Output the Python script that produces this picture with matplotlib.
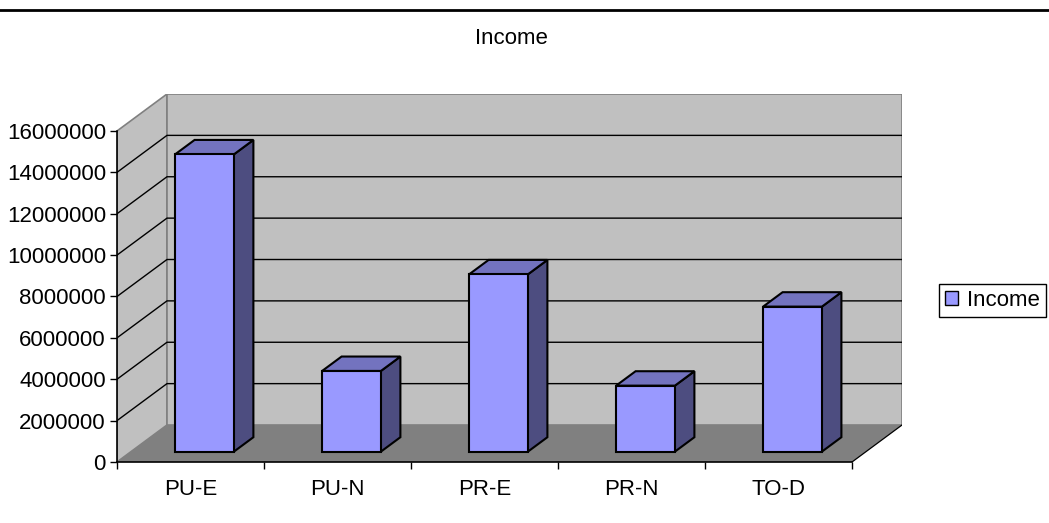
import matplotlib.pyplot as plt
from matplotlib.patches import Polygon, Patch
from matplotlib.lines import Line2D
import numpy as np

plt.rcParams['font.family'] = ['Liberation Sans', 'DejaVu Sans']

categories = ['PU-E', 'PU-N', 'PR-E', 'PR-N', 'TO-D']
income = [14370000, 3900000, 8570000, 3190000, 7010000]
y_ticks = [0, 2000000, 4000000, 6000000, 8000000, 10000000, 12000000, 14000000, 16000000]

ymax = 16000000
# oblique depth vector for the whole floor, in data units
DX = 0.34
DY = 1788000
# bar placement: width in category units, front/back depth fraction
bw = 0.4
d0, d1 = 0.28, 0.67

front_col = '#9999ff'
top_col = '#7373bf'
side_col = '#4d4d80'

W, H = 1049, 523
fig = plt.figure(figsize=(W / 100, H / 100), dpi=100)
ax = fig.add_axes([117 / W, (H - 462) / H, 785 / W, 368 / H])
n = len(categories)
ax.set_xlim(0, n + DX)
ax.set_ylim(0, ymax + DY)
ax.patch.set_visible(False)

def poly(pts, fc, ec='none', lw=0, z=1):
    ax.add_patch(Polygon(pts, closed=True, facecolor=fc, edgecolor=ec,
                         linewidth=lw, zorder=z, joinstyle='miter'))

# walls and floor
poly([(0, 0), (DX, DY), (DX, ymax + DY), (0, ymax)], '#c0c0c0', '#808080', 1.2)
poly([(DX, DY), (n + DX, DY), (n + DX, ymax + DY), (DX, ymax + DY)], '#c0c0c0', '#808080', 1.2)
poly([(0, 0), (n, 0), (n + DX, DY), (DX, DY)], '#808080')
ax.plot([n, n + DX], [0, DY], color='black', lw=0.9, zorder=2)

# gridlines on back and side walls
for v in y_ticks[1:-1]:
    ax.plot([0, DX, n + DX], [v, v + DY, v + DY], color='black', lw=1.0, zorder=2)

# bars
for i, v in enumerate(income):
    x0 = i + 0.5 - bw / 2 + d0 * DX
    x1 = x0 + bw
    yb = d0 * DY
    ox = (d1 - d0) * DX
    oy = (d1 - d0) * DY
    poly([(x1, yb), (x1 + ox, yb + oy), (x1 + ox, yb + oy + v), (x1, yb + v)],
         side_col, 'black', 1.5, 3)
    poly([(x0, yb + v), (x1, yb + v), (x1 + ox, yb + oy + v), (x0 + ox, yb + oy + v)],
         top_col, 'black', 1.5, 3)
    poly([(x0, yb), (x1, yb), (x1, yb + v), (x0, yb + v)],
         front_col, 'black', 1.5, 4)

# axes
for s in ['top', 'right']:
    ax.spines[s].set_visible(False)
ax.spines['left'].set_bounds(0, ymax)
ax.spines['bottom'].set_bounds(0, n)
for s in ['left', 'bottom']:
    ax.spines[s].set_linewidth(1.2)
    ax.spines[s].set_zorder(5)
ax.set_yticks(y_ticks)
ax.set_yticklabels([str(t) for t in y_ticks], fontsize=16)
ax.set_xticks(np.arange(n + 1))
ax.set_xticklabels([])
ax.set_xticks(np.arange(n) + 0.5, minor=True)
ax.set_xticklabels(categories, minor=True, fontsize=16)
ax.tick_params(axis='y', length=5, width=1, pad=3)
ax.tick_params(axis='x', which='major', length=5, width=1)
ax.tick_params(axis='x', which='minor', length=0, pad=12)

fig.text(511 / W, 1 - 39 / H, 'Income', ha='center', va='center', fontsize=16)

leg = fig.legend(handles=[Patch(facecolor=front_col, edgecolor='black', linewidth=1)],
                 labels=['Income'], loc='center',
                 bbox_to_anchor=(992.5 / W, 1 - 300.5 / H), fontsize=16,
                 handlelength=0.6, handleheight=0.6, handletextpad=0.4,
                 borderpad=0.25, fancybox=False, framealpha=1)
leg.get_frame().set_edgecolor('black')
leg.get_frame().set_linewidth(1)

fig.add_artist(Line2D([0, 1], [1 - 10 / H, 1 - 10 / H], color='black', lw=2))

fig.savefig('out.png', dpi=100)
